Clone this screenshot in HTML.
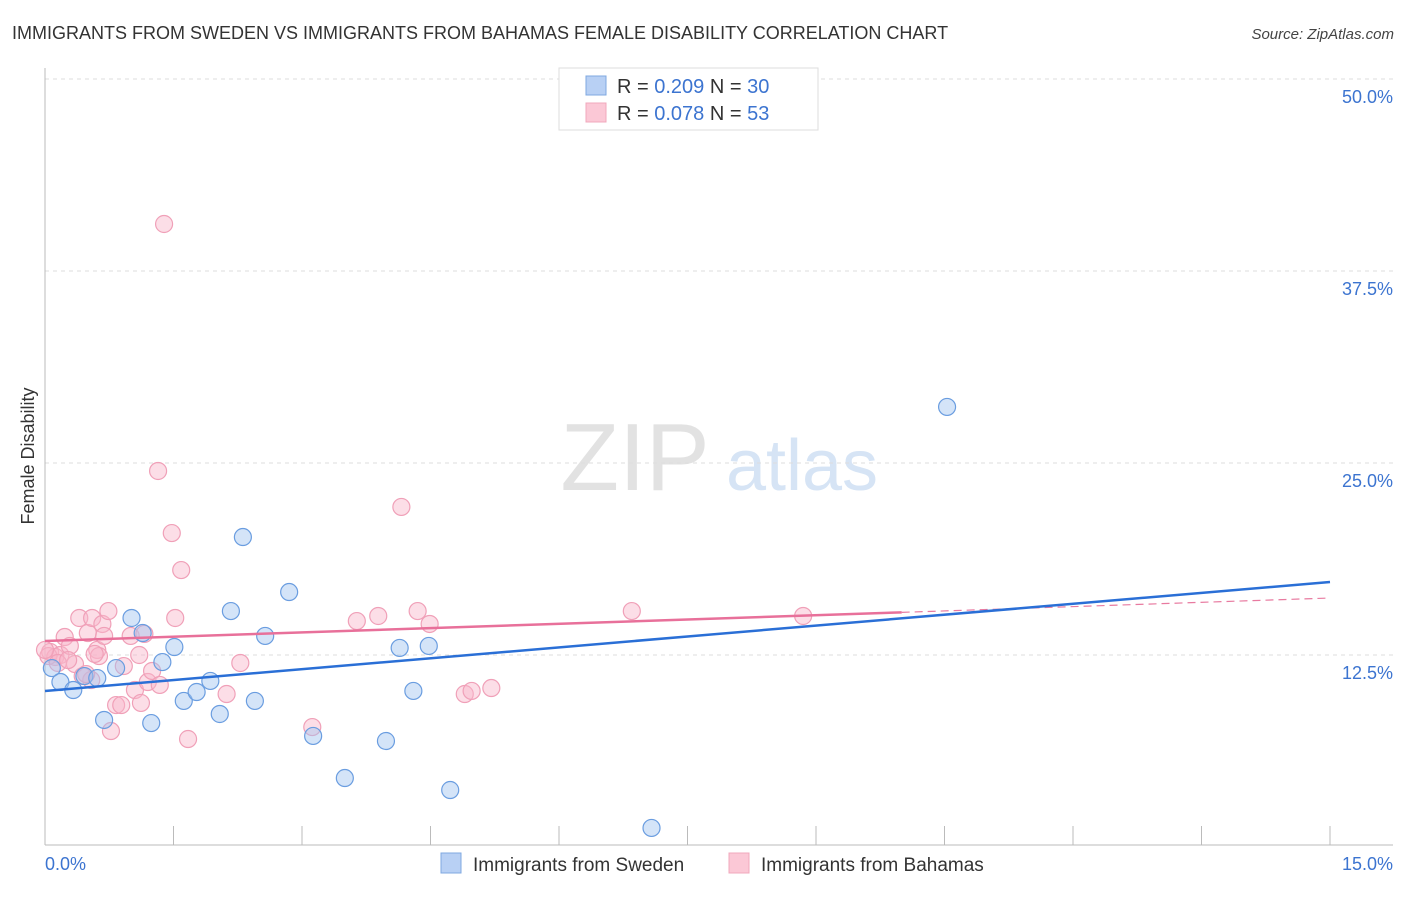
<!DOCTYPE html>
<html><head><meta charset="utf-8"><style>
body{margin:0;background:#fff;font-family:"Liberation Sans",sans-serif;}
svg text{font-family:"Liberation Sans",sans-serif;}
</style></head><body>
<svg id="chart" width="1406" height="892" xmlns="http://www.w3.org/2000/svg">
<text x="12" y="39" font-size="18" fill="#333">IMMIGRANTS FROM SWEDEN VS IMMIGRANTS FROM BAHAMAS FEMALE DISABILITY CORRELATION CHART</text>
<text x="1394" y="39" font-size="15" fill="#444" text-anchor="end" font-style="italic">Source: ZipAtlas.com</text>
<g>
<text x="635" y="490" font-size="96" fill="#e2e2e2" text-anchor="middle" font-family="Liberation Serif, serif">ZIP</text>
<text x="802" y="490" font-size="72" fill="#d6e4f5" text-anchor="middle">atlas</text>
</g>
<g id="grid"></g>
<g id="axes"></g>
<g id="marks"></g>
<text transform="translate(34,456) rotate(-90)" font-size="18" fill="#333" text-anchor="middle">Female Disability</text>
<g>
<rect x="559" y="68" width="259" height="62" fill="#fff" stroke="#ddd"/>
<rect x="586" y="76" width="20" height="19" fill="#b8d0f4" stroke="#7fa8e0"/>
<rect x="586" y="103" width="20" height="19" fill="#fbc8d6" stroke="#f0a8bc"/>
<text x="617" y="93" font-size="20" fill="#333">R = <tspan fill="#3c74d0">0.209</tspan>   N = <tspan fill="#3c74d0">30</tspan></text>
<text x="617" y="120" font-size="20" fill="#333">R = <tspan fill="#3c74d0">0.078</tspan>   N = <tspan fill="#3c74d0"> 53</tspan></text>
</g>
<g>
<rect x="441" y="853" width="20" height="20" fill="#b8d0f4" stroke="#7fa8e0"/>
<text x="473" y="871" font-size="19" fill="#333">Immigrants from Sweden</text>
<rect x="729" y="853" width="20" height="20" fill="#fbc8d6" stroke="#f0a8bc"/>
<text x="761" y="871" font-size="19" fill="#333">Immigrants from Bahamas</text>
</g>
</svg>
<script>
const yTicks=[12.5,25,37.5,50];
const yTickLabels=["12.5%","25.0%","37.5%","50.0%"];
const xTickCount=10;
const xMax=15, yMax=50;
const swedenX=[0.08,0.18,0.33,0.46,0.61,0.69,0.83,1.01,1.14,1.24,1.37,1.51,1.62,1.77,1.93,2.04,2.17,2.31,2.45,2.57,2.85,3.13,3.50,3.98,4.14,4.30,4.48,4.73,7.08,10.53];
const swedenY=[11.65,10.74,10.22,11.13,11.00,8.27,11.65,14.91,13.93,8.07,12.04,13.02,9.51,10.09,10.81,8.66,15.36,20.18,9.51,13.74,16.60,7.23,4.49,6.90,12.96,10.16,13.09,3.71,1.24,28.65];
const bahamasX=[0.06,0.12,0.04,0.18,0.23,0.29,0.35,0.40,0.44,0.50,0.54,0.55,0.61,0.63,0.67,0.69,0.74,0.77,0.83,0.89,0.92,1.00,1.05,1.10,1.12,1.16,1.20,1.25,1.32,1.34,1.39,1.48,1.52,1.59,1.67,2.12,2.28,3.12,3.64,3.89,4.16,4.35,4.49,4.90,4.98,5.21,6.85,8.85,0.15,0.00,0.27,0.48,0.58];
const bahamasY=[12.70,12.37,12.43,12.50,13.67,13.09,11.91,14.91,11.13,13.93,10.87,14.91,12.83,12.43,14.52,13.74,15.36,7.55,9.24,9.24,11.78,13.74,10.22,12.50,9.38,13.87,10.74,11.46,24.48,10.55,40.56,20.44,14.91,18.03,7.03,9.96,11.98,7.81,14.71,15.04,22.14,15.36,14.52,9.96,10.16,10.35,15.36,15.04,11.98,12.83,12.17,11.26,12.57];
const swedenTrend=[10.16,17.25];
const bahamasTrend=[13.41,16.21];
const bahamasSolidEnd=10.0;

const X0=45,X1=1330,Y0=847,PX=192/12.5;
const sx=v=>X0+v/xMax*(X1-X0);
const sy=v=>Y0-v*PX;
const NS="http://www.w3.org/2000/svg";
function mk(tag,parent,attrs){const e=document.createElementNS(NS,tag);for(const k in attrs)e.setAttribute(k,attrs[k]);parent.appendChild(e);return e;}
const grid=document.getElementById('grid'),axes=document.getElementById('axes'),marks=document.getElementById('marks');
yTicks.forEach((t,i)=>{
 const l=mk('line',grid,{x1:X0,x2:1393,y1:sy(t),y2:sy(t),stroke:'#ddd','stroke-dasharray':'4,4'});
 
 
 const tx=mk('text',grid,{x:1393,y:sy(t)+24,'font-size':18,fill:'#3c74d0','text-anchor':'end'});
 tx.textContent=yTickLabels[i];
 
 
});
const ya=mk('line',axes,{x1:X0,x2:X0,y1:68,y2:845,stroke:'#bbb'});


const xa=mk('line',axes,{x1:X0,x2:1393,y1:845,y2:845,stroke:'#bbb'});


for(let i=0;i<=xTickCount;i++){
 const x=sx(i*xMax/xTickCount);
 const t=mk('line',axes,{x1:x,x2:x,y1:826,y2:845,stroke:'#bbb'});
 
 
}
const xl0=mk('text',axes,{x:45,y:870,'font-size':18,fill:'#3c74d0'});xl0.textContent='0.0%';


const xl1=mk('text',axes,{x:1393,y:870,'font-size':18,fill:'#3c74d0','text-anchor':'end'});xl1.textContent='15.0%';



bahamasX.forEach((x,i)=>{
 const c=mk('circle',marks,{cx:sx(x),cy:sy(bahamasY[i]),r:8.5,fill:'rgba(248,182,202,0.45)',stroke:'#f0a0b8','stroke-width':1.2});
 
 
});
swedenX.forEach((x,i)=>{
 const c=mk('circle',marks,{cx:sx(x),cy:sy(swedenY[i]),r:8.5,fill:'rgba(160,196,240,0.45)',stroke:'#6a9de0','stroke-width':1.2});
 
 
});
const bt=v=>bahamasTrend[0]+(bahamasTrend[1]-bahamasTrend[0])*v/xMax;
const pd=mk('line',marks,{x1:sx(bahamasSolidEnd),y1:sy(bt(bahamasSolidEnd)),x2:sx(xMax),y2:sy(bt(xMax)),stroke:'#e87aa0','stroke-width':1.2,'stroke-dasharray':'8,5'});


const ps=mk('line',marks,{x1:sx(0),y1:sy(bt(0)),x2:sx(bahamasSolidEnd),y2:sy(bt(bahamasSolidEnd)),stroke:'#e8709a','stroke-width':2.5});


const bl=mk('line',marks,{x1:sx(0),y1:sy(swedenTrend[0]),x2:sx(xMax),y2:sy(swedenTrend[1]),stroke:'#2a6fd6','stroke-width':2.5});


</script>
</body></html>
